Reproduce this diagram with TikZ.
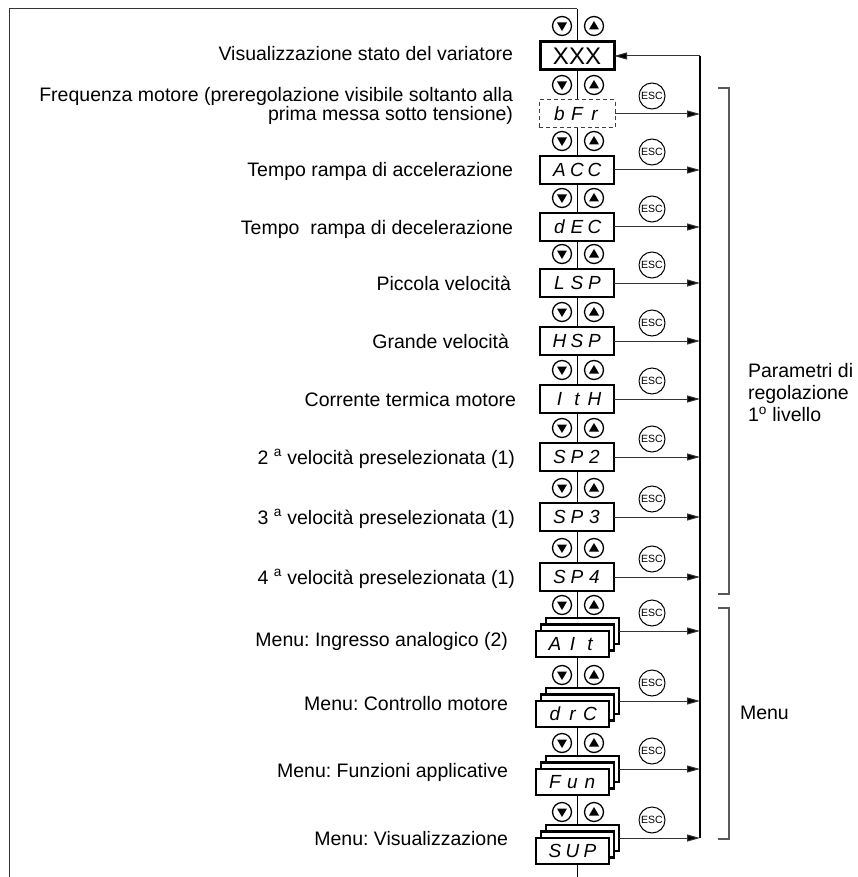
\documentclass[tikz,border=0pt]{standalone}
\usepackage{fontspec}
\setmainfont{Liberation Sans}
\usetikzlibrary{arrows.meta}
\newcommand\segtxt[3]{\makebox[17.5pt]{#1}\makebox[17.5pt]{#2}\makebox[17.5pt]{#3}}
\frenchspacing
\begin{document}
\begin{tikzpicture}[x=1pt,y=-1pt,
  every node/.style={inner sep=0pt, outer sep=0pt},
  lbl/.style={anchor=east, text height=14pt, text depth=0pt, font=\fontsize{19.5}{17.5}\selectfont},
  lbl2/.style={anchor=east, align=right, font=\fontsize{19.5}{17.5}\selectfont},
  dispbox/.style={draw, line width=2.5pt, fill=white, minimum width=74pt, minimum height=28pt, font=\fontsize{19}{19}\selectfont\itshape},
  xxxbox/.style={draw, line width=3pt, fill=white, minimum width=74pt, minimum height=28pt, font=\fontsize{24}{24}\selectfont},
  dashbox/.style={draw=black!75, dash pattern=on 4pt off 3pt, line width=1pt, fill=white, minimum width=76pt, minimum height=28pt, font=\fontsize{19}{19}\selectfont\itshape},
  stackbox/.style={draw, line width=2.5pt, fill=white, minimum width=73pt, minimum height=26pt, font=\fontsize{19}{19}\selectfont\itshape},
  escbtn/.style={circle, draw, line width=1pt, fill=white, minimum size=26pt, font=\fontsize{10.5}{10.5}\selectfont},
  btndn/.style={circle, draw, line width=1.3pt, fill=white, minimum size=19pt,
    path picture={\fill[black] ([xshift=-5pt,yshift=3.5pt]path picture bounding box.center) -- ([xshift=5pt,yshift=3.5pt]path picture bounding box.center) -- ([yshift=-5pt]path picture bounding box.center) -- cycle;}},
  btnup/.style={circle, draw, line width=1.3pt, fill=white, minimum size=19pt,
    path picture={\fill[black] ([xshift=-5pt,yshift=-3.5pt]path picture bounding box.center) -- ([xshift=5pt,yshift=-3.5pt]path picture bounding box.center) -- ([yshift=5pt]path picture bounding box.center) -- cycle;}},
  arr/.style={line width=1pt, draw=black!80, -{Triangle[length=13pt,width=7pt,fill=black]}},
  retline/.style={line width=1.6pt},
  chain/.style={line width=1pt},
  frame/.style={line width=1pt, draw=black!80},
  bracket/.style={line width=1.3pt, draw=black!65},
  side/.style={font=\fontsize{19.5}{22}\selectfont}
]
\useasboundingbox (0,0) rectangle (857,877);

% frame and chain line
\coordinate (ctop) at (577,9);
\coordinate (cbot) at (577,877);
\coordinate (ftl) at (9,9);
\coordinate (fbl) at (9,877);
\draw[frame] (ctop) -- (ftl) -- (fbl);
\draw[chain] (ctop) -- (cbot);

% return line
\coordinate (rt) at (700,56);
\coordinate (rb) at (700,838);
\draw[retline] (rb) -- (rt);

% XXX
\node[xxxbox] (xxx) at (577,56) {XXX};
\node[btndn] (xxx-d) at (562,26) {};
\node[btnup] (xxx-u) at (594,26) {};
\draw[arr] (rt) -- (xxx.east);

% bFr
\node[dashbox] (bfr) at (577,114) {\segtxt{b}{F}{r}};
\node[btndn] (bfr-d) at (562,85) {};
\node[btnup] (bfr-u) at (594,85) {};
\node[escbtn] (bfr-esc) at (652,96) {ESC};
\draw[arr] (bfr.east) -- (bfr.east -| rt);

% regular rows
\foreach \nm/\yy/\a/\b/\c in {acc/170/A/C/C, dec/227/d/E/C, lsp/283/L/S/P, hsp/341/H/S/P, ith/399/I/t/H, spa/457/S/P/2, spb/517/S/P/3, spc/577/S/P/4}{
  \node[dispbox] (\nm) at (577,\yy) {\segtxt{\a}{\b}{\c}};
  \node[btndn] (\nm-d) at (562,\yy-29) {};
  \node[btnup] (\nm-u) at (594,\yy-29) {};
  \node[escbtn] (\nm-esc) at (652,\yy-18) {ESC};
  \draw[arr] (\nm.east) -- (\nm.east -| rt);
}

% stacked menu rows
\foreach \nm/\yy/\a/\b/\c in {ait/644/A/I/t, drc/714/d/r/C, fun/782/F/u/n, sup/851/S/U/P}{
  \node[stackbox] (\nm3) at (582.5,\yy-13) {};
  \node[stackbox] (\nm2) at (577.5,\yy-6.5) {};
  \node[stackbox] (\nm) at (572.5,\yy) {\segtxt{\a}{\b}{\c}};
  \node[btndn] (\nm-d) at (562,\yy-39) {};
  \node[btnup] (\nm-u) at (594,\yy-39) {};
  \node[escbtn] (\nm-esc) at (652,\yy-31) {ESC};
  \draw[arr] (\nm3.east) -- (\nm3.east -| rt);
}

% labels
\node[lbl] (l1) at (513,54) {Visualizzazione stato del variatore};
\node[lbl2] (l2) at (513,106) {Frequenza motore (preregolazione visibile soltanto alla\\prima messa sotto tensione)};
\node[lbl] (l3) at (513,170) {Tempo rampa di accelerazione};
\node[lbl] (l4) at (513,227) {Tempo\ \ rampa di decelerazione};
\node[lbl] (l5) at (511,283) {Piccola velocità};
\node[lbl] (l6) at (509,341) {Grande velocità};
\node[lbl] (l7) at (516,399) {Corrente termica motore};
\node[lbl] (l8) at (515,457) {2 \textsuperscript{a} velocità preselezionata (1)};
\node[lbl] (l9) at (515,517) {3 \textsuperscript{a} velocità preselezionata (1)};
\node[lbl] (l10) at (515,577) {4 \textsuperscript{a} velocità preselezionata (1)};
\node[lbl] (l11) at (508,639) {Menu: Ingresso analogico (2)};
\node[lbl] (l12) at (508,703) {Menu: Controllo motore};
\node[lbl] (l13) at (508,770) {Menu: Funzioni applicative};
\node[lbl] (l14) at (508,838) {Menu: Visualizzazione};

% brackets
\coordinate (b1a) at (718,88);
\coordinate (b1b) at (729,88);
\coordinate (b1c) at (729,594);
\coordinate (b1d) at (718,594);
\draw[bracket] (b1a) -- (b1b) -- (b1c) -- (b1d);
\coordinate (b2a) at (718,608);
\coordinate (b2b) at (729,608);
\coordinate (b2c) at (729,839);
\coordinate (b2d) at (718,839);
\draw[bracket] (b2a) -- (b2b) -- (b2c) -- (b2d);

\node[side, anchor=west, align=left] (par) at (748,393) {Parametri di\\regolazione\\1\textsuperscript{o} livello};
\node[side, anchor=west, text height=14pt, text depth=0pt] (menu) at (740,712) {Menu};
\end{tikzpicture}
\end{document}
